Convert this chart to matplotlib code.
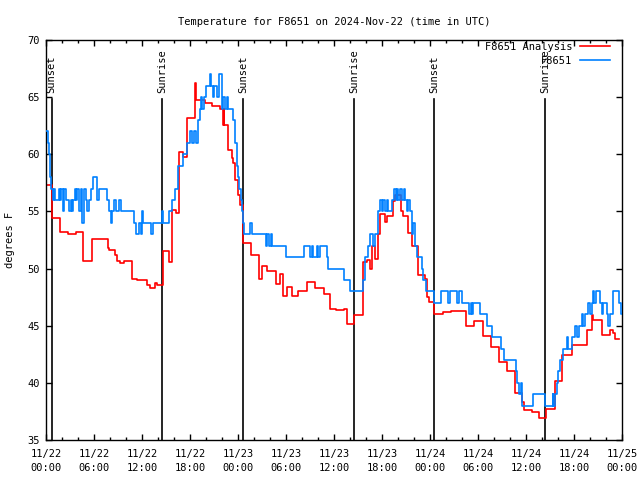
import matplotlib
matplotlib.use("Agg")
import matplotlib.pyplot as plt
from matplotlib.ticker import MultipleLocator

# ================= data (hours since 11/22 00:00 UTC) =================
obs_hours = [0.0, 0.25, 0.375, 0.5, 0.67, 0.83, 1.0, 1.125, 1.625, 1.75, 1.92, 2.08, 2.25, 2.5,
             2.875, 3.08, 3.2, 3.42, 3.58, 3.75, 3.92, 4.125, 4.33, 4.54, 4.75, 4.96, 5.17, 5.375,
             5.67, 5.83, 6.33, 6.625, 7.67, 7.875, 8.08, 8.29, 8.5, 8.71, 9.125, 9.42, 11.0, 11.2,
             11.625, 11.83, 11.96, 12.17, 13.08, 13.42, 14.46, 14.67, 15.375, 15.7, 16.1, 16.5,
             16.75, 17.17, 17.67, 18.0, 18.2, 18.5, 18.75, 19.04, 19.25, 19.375, 19.46, 19.75,
             20.0, 20.5, 20.625, 20.83, 21.04, 21.33, 21.67, 21.96, 22.17, 22.375, 22.58, 22.79,
             23.33, 23.625, 23.83, 23.92, 24.04, 24.17, 24.33, 24.5, 24.625, 24.75, 25.5, 25.71,
             27.5, 27.67, 27.92, 28.08, 28.21, 30.0, 32.25, 33.0, 33.2, 33.42, 33.83, 34.04, 34.25,
             35.08, 35.29, 37.29, 38.0, 39.67, 39.875, 40.2, 40.5, 40.9, 41.125, 41.54, 41.75,
             41.96, 42.17, 42.375, 42.58, 42.79, 43.2, 43.5, 43.71, 43.83, 43.96, 44.25, 44.54,
             44.75, 44.875, 45.08, 45.29, 45.5, 45.71, 45.92, 46.125, 46.33, 46.96, 47.17, 47.5,
             48.5, 49.33, 50.29, 50.5, 51.33, 51.67, 51.96, 52.92, 53.08, 53.2, 53.42, 54.25,
             55.17, 55.71, 56.83, 57.25, 58.75, 58.92, 59.17, 59.33, 59.46, 60.83, 62.375, 63.33,
             63.42, 63.625, 63.83, 64.04, 64.25, 64.58, 65.08, 65.29, 65.71, 66.125, 66.33, 66.67,
             66.96, 67.17, 67.375, 67.79, 68.0, 68.21, 68.42, 68.54, 68.7, 69.25, 69.46, 69.67,
             70.08, 70.29, 70.5, 70.83, 71.67, 71.83, 72.0]
obs_temps = [62, 61, 60, 58, 57, 56, 57, 56, 57, 56, 57, 55, 57, 56,
             55, 56, 55, 56, 57, 56, 57, 55, 57, 54, 57, 56, 55, 56,
             57, 58, 56, 57, 56, 55, 54, 55, 56, 55, 56, 55, 54, 53,
             54, 53, 55, 54, 53, 54, 55, 54, 55, 56, 57, 59,
             59, 60, 61, 62, 61, 62, 61, 63, 64, 65, 64, 65,
             66, 67, 66, 65, 66, 65, 67, 64, 65, 64, 65, 64,
             63, 61, 60, 59, 58, 57, 56, 55, 54, 53, 54, 53,
             52, 53, 52, 53, 52, 51, 52, 51, 52, 51, 52, 51, 52,
             51, 50, 49, 48, 49, 51, 52, 53, 52, 53, 55, 56,
             55, 56, 55, 56, 55, 56, 57, 56, 57, 56, 57, 56,
             57, 56, 55, 56, 55, 53, 54, 52, 51, 50, 49, 48,
             47, 48, 47, 48, 47, 48, 47, 46, 47, 46, 47, 46,
             45, 44, 43, 42, 41, 40, 39, 40, 38, 39, 38, 39,
             38, 39, 40, 41, 42, 43, 44, 43, 44, 45, 44, 45,
             46, 45, 46, 47, 46, 47, 48, 47, 48, 47, 46, 47,
             46, 45, 46, 48, 47, 46, 46]

ana_hours = [0.0, 0.71, 1.75, 2.79, 3.75, 4.67, 5.71, 7.71, 7.875, 8.625, 8.83, 9.25, 9.75, 10.71,
             11.33, 12.58, 13.0, 13.625, 13.83, 14.58, 15.42, 15.71, 16.2, 16.67, 17.17, 17.58,
             18.625, 18.75, 19.875, 20.7, 21.75, 22.08, 22.2, 22.3, 22.7, 23.2, 23.42, 23.625,
             24.04, 24.25, 24.58, 24.67, 25.6, 26.67, 26.96, 27.67, 28.7, 29.25, 29.6, 30.1, 30.7,
             31.5, 32.67, 33.6, 34.75, 35.5, 36.25, 37.25, 37.6, 38.55, 39.6, 40.08, 40.5, 40.71,
             41.125, 41.54, 41.75, 42.375, 42.58, 43.42, 43.625, 44.375, 44.67, 45.29, 45.79,
             46.54, 47.375, 47.58, 47.92, 48.5, 49.67, 50.58, 52.5, 53.5, 54.67, 55.58, 56.58,
             57.67, 58.625, 59.46, 59.75, 60.71, 61.67, 62.5, 63.625, 64.5, 65.7, 67.6, 68.2,
             68.42, 69.5, 70.5, 70.92, 71.1, 71.67]
ana_temps = [57.3, 54.4, 53.2, 53.05, 53.2, 50.7, 52.6, 51.8, 51.6, 51.2, 50.7, 50.5, 50.7, 49.1,
             49.0, 48.6, 48.3, 48.7, 48.6, 51.5, 50.6, 55.1, 54.9, 60.2, 59.8, 63.2,
             66.2, 64.75, 64.45, 64.25, 64.0, 62.6, 64.0, 62.6, 60.4, 59.65, 59.2, 57.75,
             56.4, 55.6, 54.0, 52.2, 51.2, 49.1, 50.2, 49.8, 48.65, 49.5, 47.6, 48.4, 47.6,
             48.0, 48.8, 48.3, 47.8, 46.5, 46.4, 46.45, 45.15, 45.9, 50.6, 50.75, 50.0, 52.0,
             50.8, 53.0, 54.8, 54.1, 54.6, 55.9, 56.4, 55.0, 54.6, 53.1, 52.0,
             49.4, 49.1, 47.5, 47.1, 46.0, 46.2, 46.3, 45.0, 45.4, 44.1, 43.1, 41.8,
             41.0, 39.1, 38.35, 37.6, 37.45, 36.9, 37.7, 40.2, 42.4, 43.3, 44.6, 45.9,
             45.5, 44.2, 44.6, 44.4, 43.8, 43.8]

event_hours = [0.71, 14.54, 24.66, 38.54, 48.54, 62.41]
event_labels = ["Sunset", "Sunrise", "Sunset", "Sunrise", "Sunset", "Sunrise"]

tick_hours = list(range(0, 73, 6))
tick_days = ["11/22"] * 4 + ["11/23"] * 4 + ["11/24"] * 4 + ["11/25"]
tick_times = ["00:00", "06:00", "12:00", "18:00"] * 3 + ["00:00"]

# ================= plot =================
FONT = "DejaVu Sans Mono"
FS = 7.5
plt.rcParams["font.family"] = FONT
plt.rcParams["font.size"] = FS

fig = plt.figure(figsize=(6.4, 4.8), dpi=100)
ax = fig.add_axes([46 / 640, 40 / 480, 576 / 640, 400 / 480])

# sunrise / sunset markers
for h, lab in zip(event_hours, event_labels):
    ax.axvline(h, ymin=0, ymax=0.8525, color="black", lw=1.2, zorder=1)
    ax.text(h, 0.8675, lab, transform=ax.get_xaxis_transform(), rotation=90,
            ha="center", va="bottom", fontsize=FS)

ax.step(ana_hours, ana_temps, where="post", color="#ff0000", lw=1.2,
        label="F8651 Analysis", zorder=2)
ax.step(obs_hours, obs_temps, where="post", color="#0080ff", lw=1.2,
        label="F8651", zorder=3)

ax.set_xlim(0, 72)
ax.set_ylim(35, 70)
ax.set_xticks(tick_hours)
ax.set_xticklabels([f"{d}\n{t}" for d, t in zip(tick_days, tick_times)], linespacing=1.45)
ax.xaxis.set_minor_locator(MultipleLocator(2))
ax.set_yticks(range(35, 71, 5))
ax.tick_params(which="both", direction="in", top=True, right=True, color="black")
ax.tick_params(which="major", length=4, width=1)
ax.tick_params(which="minor", length=2, width=1)
ax.tick_params(axis="x", which="major", pad=6.5)
ax.tick_params(axis="y", which="major", pad=4.3)
for sp in ax.spines.values():
    sp.set_linewidth(1.0)

ax.set_title("Temperature for F8651 on 2024-Nov-22 (time in UTC)", fontsize=FS, pad=11)
fig.text(10 / 640, 0.5, "degrees F", rotation=90, ha="center", va="center", fontsize=FS)

leg = ax.legend(loc="upper right", bbox_to_anchor=(0.979, 0.995), frameon=False,
                markerfirst=False, handlelength=2.9, handletextpad=0.7,
                labelspacing=0.35, borderpad=0, borderaxespad=0, fontsize=FS)

fig.savefig("out.png", dpi=100)
